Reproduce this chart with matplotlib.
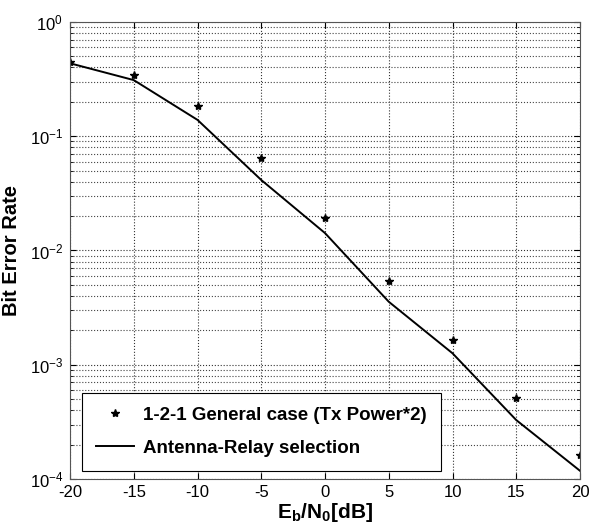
import numpy as np
import matplotlib.pyplot as plt
from matplotlib.ticker import LogLocator

# data
snr_db = [-20, -15, -10, -5, 0, 5, 10, 15, 20]
ber_general = [0.447, 0.343, 0.185, 0.065, 0.0192, 0.00544, 0.00165, 0.000508, 0.000162]
ber_selection = [0.435, 0.31, 0.139, 0.0414, 0.0142, 0.00356, 0.00126, 0.000328, 0.000118]

plt.rcParams['font.family'] = ['Liberation Sans', 'DejaVu Sans']
plt.rcParams['axes.unicode_minus'] = False
plt.rcParams['mathtext.default'] = 'regular'

fig = plt.figure(figsize=(5.99, 5.31), dpi=100)
ax = fig.add_axes([0.1169, 0.0979, 0.8514, 0.8607])

ax.semilogy(snr_db, ber_general, linestyle='none', marker='*', color='black',
            markersize=6, label='1-2-1 General case (Tx Power*2)')
ax.semilogy(snr_db, ber_selection, color='black', linewidth=1.4,
            label='Antenna-Relay selection')

ax.set_xlim(-20, 20)
ax.set_ylim(1e-4, 1)
ax.set_xticks([-20, -15, -10, -5, 0, 5, 10, 15, 20])
ax.yaxis.set_major_locator(LogLocator(base=10, numticks=10))
ax.yaxis.set_minor_locator(LogLocator(base=10, subs=np.arange(2, 10), numticks=10))
ax.yaxis.set_minor_formatter(plt.NullFormatter())

ax.grid(True, which='major', linestyle=':', color='#333333', linewidth=0.8)
ax.grid(True, which='minor', axis='y', linestyle=':', color='#444444', linewidth=0.8)

ax.tick_params(which='both', direction='in', top=True, right=True, labelsize=12)
ax.tick_params(which='major', length=4)
ax.tick_params(which='minor', length=2)
ax.tick_params(axis='x', pad=4)
ax.tick_params(axis='y', pad=5)
for s in ax.spines.values():
    s.set_color('#555555')

ax.set_xlabel('E$_b$/N$_0$[dB]', fontsize=15, fontweight='bold', labelpad=1)
ax.set_ylabel('Bit Error Rate', fontsize=14.5, fontweight='bold', labelpad=6)

leg = ax.legend(loc='lower left', bbox_to_anchor=(0.0235, 0.0175), borderaxespad=0,
                fancybox=False, edgecolor='black', framealpha=1,
                prop={'weight': 'bold', 'size': 13.5},
                handlelength=2.0, handletextpad=0.5, borderpad=0.75, labelspacing=0.85)
leg.get_frame().set_linewidth(0.8)

plt.savefig('out.png', dpi=100)
